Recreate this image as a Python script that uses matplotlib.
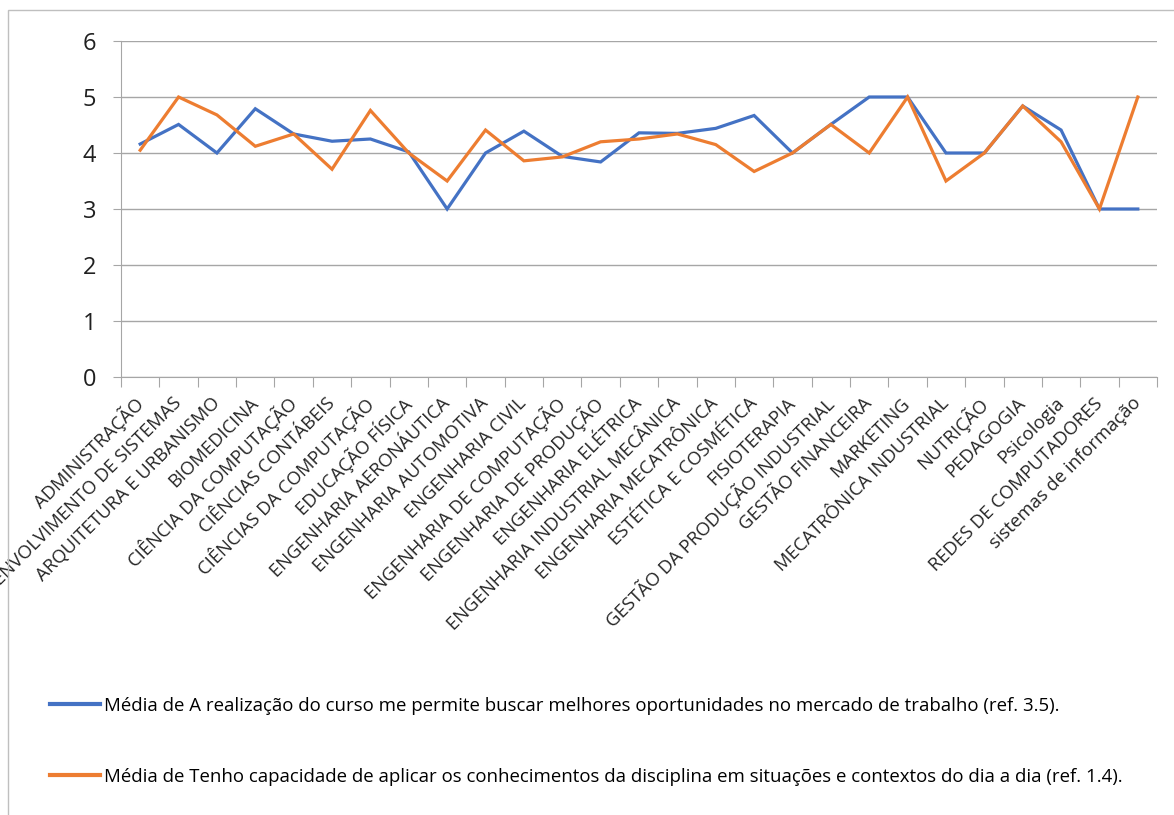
import matplotlib
matplotlib.use("Agg")
import matplotlib.pyplot as plt
from matplotlib.patches import Rectangle

categories = [
    "ADMINISTRAÇÃO", "ANÁLISE E DESENVOLVIMENTO DE SISTEMAS", "ARQUITETURA E URBANISMO",
    "BIOMEDICINA", "CIÊNCIA DA COMPUTAÇÃO", "CIÊNCIAS CONTÁBEIS",
    "CIÊNCIAS DA COMPUTAÇÃO", "EDUCAÇÃO FÍSICA", "ENGENHARIA AERONÁUTICA",
    "ENGENHARIA AUTOMOTIVA", "ENGENHARIA CIVIL", "ENGENHARIA DE COMPUTAÇÃO",
    "ENGENHARIA DE PRODUÇÃO", "ENGENHARIA ELÉTRICA", "ENGENHARIA INDUSTRIAL MECÂNICA",
    "ENGENHARIA MECATRÔNICA", "ESTÉTICA E COSMÉTICA", "FISIOTERAPIA",
    "GESTÃO DA PRODUÇÃO INDUSTRIAL", "GESTÃO FINANCEIRA", "MARKETING",
    "MECATRÔNICA INDUSTRIAL", "NUTRIÇÃO", "PEDAGOGIA", "Psicologia",
    "REDES DE COMPUTADORES", "sistemas de informação",
]
serie_a = [4.16, 4.51, 4.0, 4.79, 4.34, 4.21, 4.25, 4.02, 3.0, 4.0, 4.39, 3.94, 3.84,
           4.36, 4.35, 4.44, 4.67, 4.0, 4.51, 5.0, 5.0, 4.0, 4.0, 4.84, 4.41, 3.0, 3.0]
serie_b = [4.05, 5.0, 4.68, 4.12, 4.34, 3.71, 4.76, 4.0, 3.5, 4.41, 3.86, 3.93, 4.2,
           4.25, 4.34, 4.15, 3.67, 4.0, 4.51, 4.0, 5.0, 3.5, 4.0, 4.84, 4.2, 3.0, 5.0]
label_a = "Média de A realização do curso me permite buscar melhores oportunidades no mercado de trabalho (ref. 3.5)."
label_b = "Média de Tenho capacidade de aplicar os conhecimentos da disciplina em situações e contextos do dia a dia (ref. 1.4)."
yticks = [0, 1, 2, 3, 4, 5, 6]

W, H = 1174, 815
fig = plt.figure(figsize=(W / 100, H / 100), dpi=100)
fig.patches.append(Rectangle((8 / W, -0.01), 1.2, 1 - 10 / H + 0.01, transform=fig.transFigure,
                             fill=False, edgecolor="#bfbfbf", linewidth=1.0))

ax = fig.add_axes([121 / W, 1 - 377 / H, (1157 - 121) / W, (377 - 41) / H])
x = list(range(len(categories)))
blue = "#4472C4"
orange = "#ED7D31"
l1, = ax.plot(x, serie_a, color=blue, linewidth=2.3, solid_joinstyle="miter")
l2, = ax.plot(x, serie_b, color=orange, linewidth=2.3, solid_joinstyle="miter")

ax.set_xlim(-0.5, len(categories) - 0.5)
ax.set_ylim(0, 6)
ax.set_yticks(yticks)
ax.set_yticklabels([str(v) for v in yticks], fontsize=17, family="Open Sans", color="#202020")
ax.yaxis.grid(True, color="#a6a6a6", linewidth=1.0)
ax.set_axisbelow(True)
for s in ["top", "right"]:
    ax.spines[s].set_visible(False)
ax.spines["left"].set_color("#a6a6a6")
ax.spines["bottom"].set_color("#a6a6a6")
ax.tick_params(axis="y", length=6, color="#a6a6a6", pad=12)

ax.set_xticks([i - 0.5 for i in range(len(categories) + 1)])
ax.set_xticklabels([])
ax.tick_params(axis="x", length=7, color="#a6a6a6")
ax.set_xticks(x, minor=True)
ax.set_xticklabels(categories, minor=True, rotation=45, ha="right", va="center",
                   rotation_mode="anchor", fontsize=13.3, family="Open Sans", color="#262626")
ax.tick_params(axis="x", which="minor", length=0, pad=17)

fig.legend([l1, l2], [label_a, label_b], loc="upper left", bbox_to_anchor=(33 / W, 1 - 680 / H),
           frameon=False, handlelength=2.7, handletextpad=0.2, labelspacing=2.85,
           prop={"family": "Open Sans", "size": 13.4})
for lh in fig.legends[0].get_lines():
    lh.set_linewidth(3)

fig.savefig("out.png", dpi=100)
